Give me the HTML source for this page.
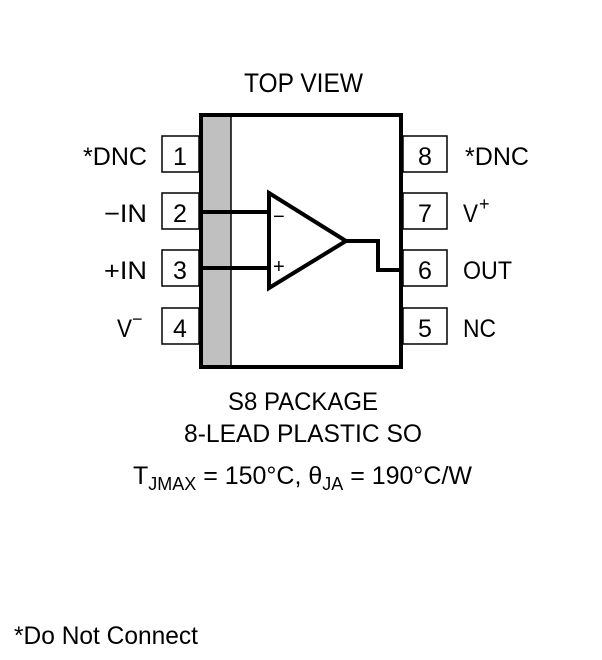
<!DOCTYPE html>
<html><head><style>
html,body{margin:0;padding:0;background:#fff;}
svg{display:block;}
text{font-family:"Liberation Sans Narrow","Liberation Sans",sans-serif;fill:#000;}
</style></head><body>
<svg width="602" height="660" viewBox="0 0 602 660" xmlns="http://www.w3.org/2000/svg">
<text x="244" y="92" font-size="27" textLength="119" lengthAdjust="spacingAndGlyphs">TOP VIEW</text>
<rect x="203" y="117" width="28" height="248" fill="#c0c0c0"/>
<line x1="231" y1="117" x2="231" y2="365" stroke="#000" stroke-width="1.5"/>
<rect x="201" y="115" width="200" height="252" fill="none" stroke="#000" stroke-width="4"/>
<g fill="#fff" stroke="#000" stroke-width="1.5">
<rect x="162" y="136" width="37" height="36"/>
<rect x="162" y="193" width="37" height="36"/>
<rect x="162" y="250" width="37" height="36"/>
<rect x="162" y="308" width="37" height="36"/>
<rect x="403" y="136" width="44" height="36"/>
<rect x="403" y="193" width="44" height="36"/>
<rect x="403" y="250" width="44" height="36"/>
<rect x="403" y="308" width="44" height="36"/>
</g>
<g font-size="25" text-anchor="middle">
<text x="180" y="165">1</text><text x="180" y="222">2</text><text x="180" y="279">3</text><text x="180" y="337">4</text>
<text x="425" y="165">8</text><text x="425" y="222">7</text><text x="425" y="279">6</text><text x="425" y="337">5</text>
</g>
<g font-size="25">
<text x="83" y="165" textLength="64" lengthAdjust="spacingAndGlyphs">*DNC</text>
<text x="104" y="222" textLength="43" lengthAdjust="spacingAndGlyphs">−IN</text>
<text x="104" y="279" textLength="43" lengthAdjust="spacingAndGlyphs">+IN</text>
<text x="117" y="337" textLength="15" lengthAdjust="spacingAndGlyphs">V</text><text x="132" y="325" font-size="18">−</text>
<text x="465" y="165" textLength="64" lengthAdjust="spacingAndGlyphs">*DNC</text>
<text x="463" y="222" textLength="15" lengthAdjust="spacingAndGlyphs">V</text><text x="479" y="210" font-size="18">+</text>
<text x="463" y="279" textLength="49" lengthAdjust="spacingAndGlyphs">OUT</text>
<text x="463" y="337" textLength="33" lengthAdjust="spacingAndGlyphs">NC</text>
</g>
<g stroke="#000" stroke-width="4" fill="none">
<polygon points="269,193 269,288 346,241" fill="#fff"/>
<polyline points="201,212 269,212"/>
<polyline points="201,268 269,268"/>
<polyline points="346,241 378,241 378,270 401,270"/>
</g>
<text x="273" y="223" font-size="20">−</text>
<text x="273" y="273" font-size="20">+</text>
<g font-size="25" text-anchor="middle">
<text x="303" y="410" textLength="150" lengthAdjust="spacingAndGlyphs">S8 PACKAGE</text>
<text x="303" y="442" textLength="238" lengthAdjust="spacingAndGlyphs">8-LEAD PLASTIC SO</text>
</g>
<text x="133" y="484" font-size="25" textLength="339" lengthAdjust="spacingAndGlyphs">T<tspan font-size="18" dy="6">JMAX</tspan><tspan dy="-6"> = 150°C, θ</tspan><tspan font-size="18" dy="6">JA</tspan><tspan dy="-6"> = 190°C/W</tspan></text>
<text x="14" y="644" font-size="25" textLength="184" lengthAdjust="spacingAndGlyphs">*Do Not Connect</text>
</svg>
</body></html>
